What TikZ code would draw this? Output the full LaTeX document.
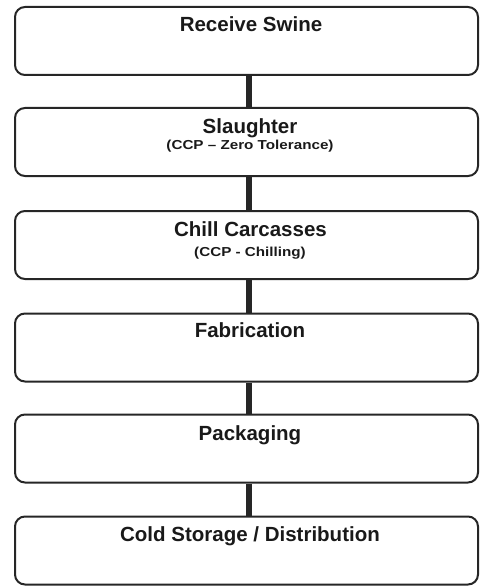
\documentclass[tikz,border=0pt]{standalone}
\usepackage{fontspec}
\setmainfont{Liberation Sans}
\newfontfamily\subfont[FakeStretch=1.17]{Liberation Sans}
\begin{document}
\begin{tikzpicture}[x=1pt,y=-1pt,
  stepbox/.style={draw=black!85, line width=2pt, rounded corners=10pt, minimum width=463pt, minimum height=68pt, inner sep=0pt},
  maintxt/.style={font=\fontsize{20.5}{22}\selectfont\bfseries, text=black!90, inner sep=0pt, anchor=base},
  subtxt/.style={font=\subfont\fontsize{13}{15}\selectfont\bfseries, text=black!90, inner sep=0pt, anchor=base},
  link/.style={draw=black!85, line width=6pt}]
\useasboundingbox (0,0) rectangle (479,588);
\node[stepbox] (b1) at (246.5,41) {};
\node[stepbox] (b2) at (246.5,142) {};
\node[stepbox] (b3) at (246.5,245) {};
\node[stepbox] (b4) at (246.5,347.5) {};
\node[stepbox] (b5) at (246.5,448.5) {};
\node[stepbox] (b6) at (246.5,550.5) {};
\node[maintxt] (t1) at (251,32) {Receive Swine};
\node[maintxt] (t2) at (250,133.3) {Slaughter};
\node[subtxt] (s2) at (250,149.3) {(CCP – Zero Tolerance)};
\node[maintxt] (t3) at (250.5,236.7) {Chill Carcasses};
\node[subtxt] (s3) at (250,256.7) {(CCP - Chilling)};
\node[maintxt] (t4) at (250,337.7) {Fabrication};
\node[maintxt] (t5) at (250,440) {Packaging};
\node[maintxt] (t6) at (250,541.7) {Cold Storage / Distribution};
\foreach \a/\b in {b1/b2,b2/b3,b3/b4,b4/b5,b5/b6}
  \draw[link] ([xshift=2.5pt]\a.south) -- ([xshift=2.5pt]\b.north);
\end{tikzpicture}
\end{document}
